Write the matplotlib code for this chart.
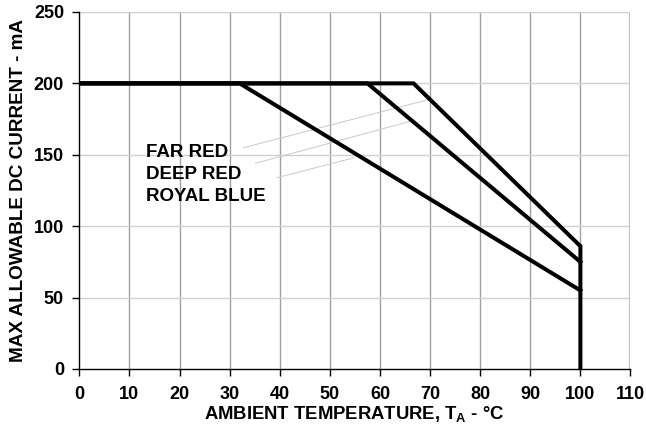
import matplotlib
matplotlib.use("Agg")
import matplotlib.pyplot as plt

plt.rcParams['font.family'] = ['Liberation Sans', 'DejaVu Sans']
plt.rcParams['font.weight'] = 'bold'
plt.rcParams['mathtext.fontset'] = 'custom'
plt.rcParams['mathtext.bf'] = 'Liberation Sans:bold'
plt.rcParams['mathtext.rm'] = 'Liberation Sans:bold'

# derating curves (temperature degC, current mA)
far_red_t = [0, 66.7, 100, 100]
far_red_i = [200, 200, 86, 0]
deep_red_t = [0, 57.5, 100]
deep_red_i = [200, 200, 75]
royal_blue_t = [0, 32, 100]
royal_blue_i = [200, 200, 55]

labels = ["FAR RED", "DEEP RED", "ROYAL BLUE"]
label_y = [151.5, 136, 121]
# leader lines: label end -> curve end
leader_x = [(32.8, 69.5), (35.1, 66.1), (39.5, 54.9)]
leader_y = [(155, 188.5), (144, 173.5), (134, 148)]

x_ticks = list(range(0, 111, 10))
y_ticks = list(range(0, 251, 50))

fs = 13

fig = plt.figure(figsize=(6.46, 4.34), dpi=100)
ax = fig.add_axes([0.1228, 0.1498, 0.8532, 0.8226])

for x in x_ticks[1:-1]:
    ax.axvline(x, color='#a0a0a0', lw=1.0, zorder=1)
ax.axvline(110, color='#b8b8b8', lw=2.0, zorder=1)
for y in y_ticks[1:]:
    ax.axhline(y, color='#d0d0d0', lw=1.0, zorder=1)

for i in range(len(labels)):
    ax.plot(leader_x[i], leader_y[i], color='#c8c8c8', lw=0.7, zorder=2)
    ax.text(13.3, label_y[i], labels[i], fontsize=13.5, fontweight='bold',
            va='center', ha='left', zorder=3)

ax.plot(royal_blue_t, royal_blue_i, color='black', lw=2.9, zorder=4, solid_joinstyle='miter')
ax.plot(deep_red_t, deep_red_i, color='black', lw=2.9, zorder=4, solid_joinstyle='miter')
ax.plot(far_red_t, far_red_i, color='black', lw=2.9, zorder=4, solid_joinstyle='miter')

ax.set_xlim(0, 110)
ax.set_ylim(0, 250)
ax.set_xticks(x_ticks)
ax.set_yticks(y_ticks)
ax.tick_params(direction='out', length=5, width=1, labelsize=fs)
ax.tick_params(axis='x', pad=7)
ax.tick_params(axis='y', pad=6)
for lab in ax.get_xticklabels() + ax.get_yticklabels():
    lab.set_fontweight('bold')
ax.spines['top'].set_visible(False)
ax.spines['right'].set_visible(False)
ax.spines['left'].set_linewidth(1.0)
ax.spines['bottom'].set_linewidth(1.0)

fig.text(354 / 646, 1 - 414 / 434, r"AMBIENT TEMPERATURE, T$_{\mathbf{A}}$ - °C",
         ha='center', va='center', fontsize=13.3, fontweight='bold')
fig.text(19 / 646, 1 - 190 / 434, "MAX ALLOWABLE DC CURRENT - mA", rotation=90,
         ha='center', va='center', fontsize=13.6, fontweight='bold')

fig.savefig("out.png", dpi=100)
